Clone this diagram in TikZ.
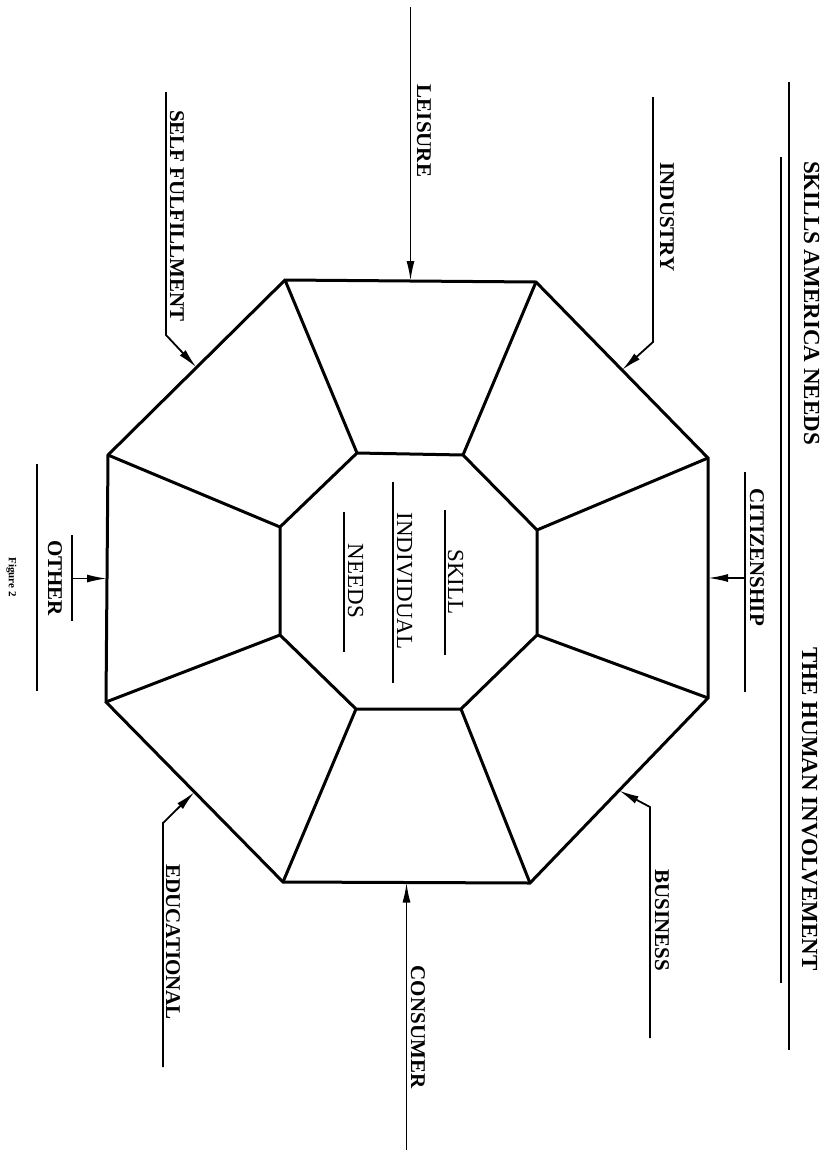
\documentclass[tikz,border=0pt]{standalone}
\usepackage{fontspec}
\setmainfont{Liberation Serif}
\usetikzlibrary{arrows.meta, calc}

\begin{document}
\begin{tikzpicture}[
  x=1pt, y=-1pt,
  wall/.style={draw,line width=3pt,line join=miter},
  bar/.style={draw,line width=1.8pt},
  feed/.style={draw,line width=1.8pt,-{Latex[length=20pt,width=8pt]}},
  area/.style={rotate=-90,anchor=base,inner sep=0pt,font=\fontsize{21}{21}\selectfont\bfseries},
  core/.style={rotate=-90,anchor=base,inner sep=0pt,font=\fontsize{23}{23}\selectfont},
  heading/.style={rotate=-90,anchor=base,inner sep=0pt,font=\fontsize{23}{23}\selectfont\bfseries}
]
\useasboundingbox (0,0) rectangle (825,1154);

% Corners of the two octagons
\foreach \n/\p in {1/{285,280},2/{536,282},3/{708,458},4/{708,698},
                   5/{530,883},6/{283,882},7/{106,702},8/{108,455}}
  \coordinate (o\n) at (\p);
\foreach \n/\p in {1/{357,453},2/{463,455},3/{537,530},4/{537,635},
                   5/{461,709},6/{356,709},7/{280,635},8/{280,527}}
  \coordinate (i\n) at (\p);

% Middles of the outer sides
\foreach \a/\b in {1/2,2/3,3/4,4/5,5/6,6/7,7/8,8/1}
  \coordinate (m\a\b) at ($(o\a)!.5!(o\b)$);

% Draw the octagons and spokes
\draw[wall] (o1) -- (o2) -- (o3) -- (o4) -- (o5) -- (o6) -- (o7) -- (o8) -- cycle;
\draw[wall] (i1) -- (i2) -- (i3) -- (i4) -- (i5) -- (i6) -- (i7) -- (i8) -- cycle;
\foreach \n in {1,...,8}
  \draw[wall] (i\n) -- (o\n);

% Centre text
\draw[bar] (445,510) -- (445,655);
\draw[bar] (393,482) -- (393,683);
\draw[bar] (344,512) -- (344,652);
\node[core] (skill) at (448,582) {SKILL};
\node[core] (indiv) at (397,581) {INDIVIDUAL};
\node[core] (needs) at (348,581) {NEEDS};

% Titles
\draw[bar] (789,82) -- (789,1050);
\draw[bar] (781,157) -- (781,983);
\node[heading] (sanTitle) at (804,303) {SKILLS AMERICA NEEDS};
\node[heading] (thiTitle) at (802,809) {THE HUMAN INVOLVEMENT};

% Feeders
\coordinate (leisureTop) at (410.5,7);
\coordinate (industryTop) at (653,97);
\coordinate (industryBend) at (653,342);
\coordinate (citTop) at (745,472);
\coordinate (citBot) at (745,692);
\coordinate (citMid) at (745,578);
\coordinate (businessBot) at (650,1038);
\coordinate (businessBend) at (650,807);
\coordinate (consumerBot) at (406.5,1150);
\coordinate (eduBot) at (163,1067);
\coordinate (eduBend) at (163,823);
\coordinate (otherTop) at (72,535);
\coordinate (otherBot) at (72,621);
\coordinate (otherMid) at (72,578.5);
\coordinate (selfTop) at (166,92);
\coordinate (selfBend) at (166,335);

\draw[feed] (leisureTop) -- (m12);
\draw[feed] (industryTop) -- (industryBend) -- (m23);
\draw[bar] (citTop) -- (citBot);
\draw[feed] (citMid) -- (m34);
\draw[feed] (businessBot) -- (businessBend) -- (m45);
\draw[feed] (consumerBot) -- (m56);
\draw[feed] (eduBot) -- (eduBend) -- (m67);
\draw[bar] (otherTop) -- (otherBot);
\draw[feed] (otherMid) -- (m78);
\draw[bar] (37,464) -- (37,691);
\draw[feed] (selfTop) -- (selfBend) -- (m81);

\node[area] (leisure) at (417,131) {LEISURE};
\node[area] (industry) at (660,217) {INDUSTRY};
\node[area] (citizen) at (750,557) {CITIZENSHIP};
\node[area] (business) at (655,920) {BUSINESS};
\node[area] (consumer) at (411,1027) {CONSUMER};
\node[area] (edu) at (166,942) {EDUCATIONAL};
\node[area] (other) at (48,578) {OTHER};
\node[area] (self) at (170,216) {SELF FULFILLMENT};

\node[rotate=-90,anchor=base,inner sep=0pt,font=\fontsize{11}{11}\selectfont\bfseries] (fig) at (9,577) {Figure 2};
\end{tikzpicture}
\end{document}
